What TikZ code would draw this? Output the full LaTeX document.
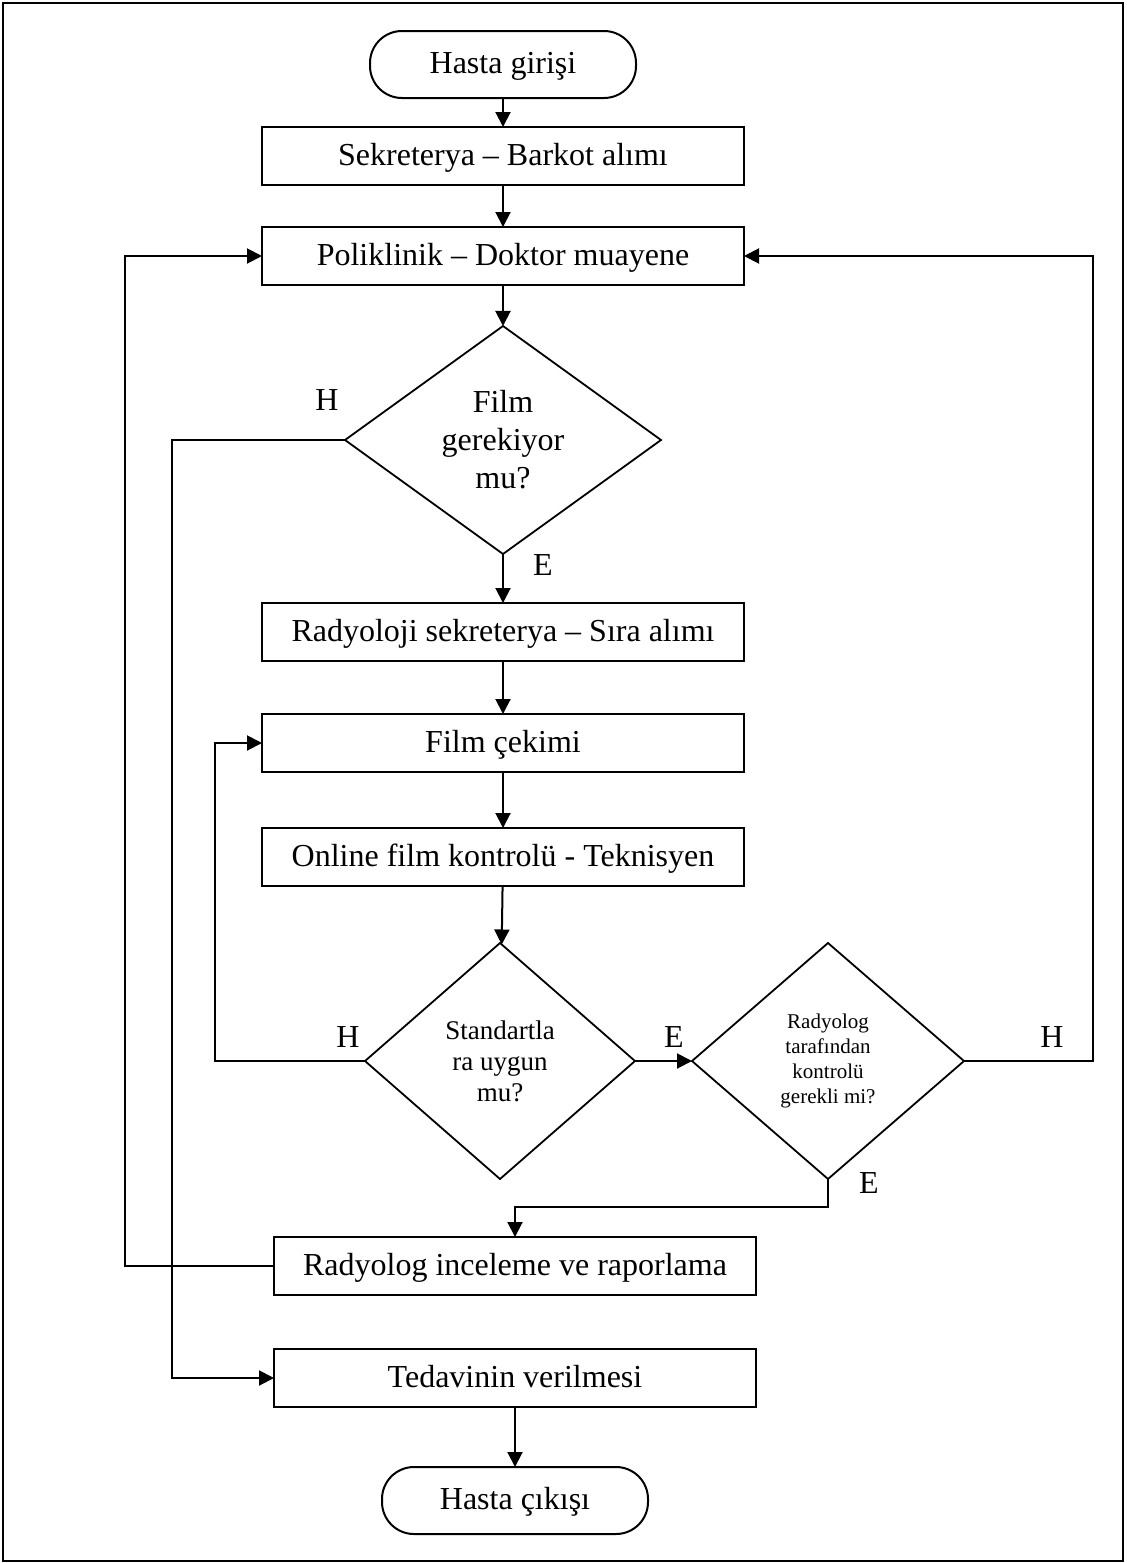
\documentclass[tikz,border=0pt]{standalone}
\usepackage{fontspec}
\setmainfont{Liberation Serif}
\usetikzlibrary{shapes.geometric, arrows.meta, positioning, calc}

\begin{document}
\begin{tikzpicture}[
  font=\fontsize{16}{19}\selectfont,
  term/.style   = {rectangle, rounded corners=16pt, draw=black, line width=1pt,
                   minimum width=133pt, minimum height=33.5pt, align=center, outer sep=0pt,
                   text height=12.5pt, text depth=3.5pt},
  box/.style    = {rectangle, draw=black, line width=1pt, fill=white,
                   minimum width=241pt, minimum height=29pt, align=center, inner sep=2pt, outer sep=0pt,
                   text height=12.5pt, text depth=3.5pt},
  dec/.style    = {diamond, draw=black, line width=0.9pt, align=center, inner sep=0pt, outer sep=0pt},
  lbl/.style    = {inner sep=0pt},
  arr/.style    = {-{Triangle[length=7.5pt, width=7.5pt]}, black, line width=1pt}
]

\useasboundingbox (0,0) rectangle (563pt,-781.5pt);
\draw[line width=1pt] (1.5pt,-1.5pt) rectangle (561.5pt,-780.5pt);

\node[term] (start) at (251.5pt,-32.25pt) {Hasta girişi};
\node[box]  (sekr)  [below=14.5pt of start] {Sekreterya – Barkot alımı};
\node[box]  (polk)  [below=21pt of sekr]    {Poliklinik – Doktor muayene};
\node[dec, minimum width=158pt, minimum height=114pt] (film) [below=20.5pt of polk]
      {Film\\gerekiyor\\mu?};
\node[box]  (rsek)  [below=24.5pt of film]  {Radyoloji sekreterya – Sıra alımı};
\node[box]  (cek)   [below=26.5pt of rsek]  {Film çekimi};
\node[box]  (onl)   [below=28pt of cek]     {Online film kontrolü - Teknisyen};
\node[dec, minimum width=135pt, minimum height=118pt,
      font=\fontsize{13.5}{15.5}\selectfont] (std) [below=28.5pt of onl, xshift=-1.5pt]
      {Standartla\\ra uygun\\mu?};
\node[dec, minimum width=136pt, minimum height=118pt,
      font=\fontsize{10.5}{12.5}\selectfont] (rkon) [right=28.5pt of std]
      {Radyolog\\tarafından\\kontrolü\\gerekli mi?};
\node[box]  (rapor) [below=29pt of std, xshift=7.5pt] {Radyolog inceleme ve raporlama};
\node[box]  (ted)   [below=27pt of rapor]   {Tedavinin verilmesi};
\node[term] (stop)  [below=30pt of ted]     {Hasta çıkışı};

% side lanes
\coordinate (lane0) at (62.5pt,0);
\coordinate (lane1) at (86pt,0);
\coordinate (lane2) at (107.5pt,0);
\coordinate (lane3) at (546.5pt,0);

% yes / no labels
\node[lbl] (h1) at ($(film.west)+(-9pt,20pt)$)  {H};
\node[lbl] (e1) at ($(film.south)+(20pt,-5.5pt)$) {E};
\node[lbl] (h2) at ($(std.west)+(-8.5pt,12pt)$)  {H};
\node[lbl] (e2) at ($(std.east)+(19.5pt,12pt)$)  {E};
\node[lbl] (h3) at ($(rkon.east)+(44pt,12pt)$)   {H};
\node[lbl] (e3) at ($(rkon.south)+(20.5pt,-2pt)$) {E};

\draw[arr] (start) -- (sekr);
\draw[arr] (sekr)  -- (polk);
\draw[arr] (polk)  -- (film);
\draw[arr] (film)  -- (rsek);
\draw[arr] (rsek)  -- (cek);
\draw[arr] (cek)   -- (onl);
\draw[arr] (onl)   -- (std);
\draw[arr] (std)   -- (rkon);

\draw[arr] (film.west) -- (film.west -| lane1) |- (ted.west);
\draw[arr] (std.west)  -- (std.west -| lane2)  |- (cek.west);
\draw[arr] (rkon.east) -- (rkon.east -| lane3) |- (polk.east);
\draw[arr] (rkon.south) -- ++(0,-14pt) -| (rapor.north);
\draw[arr] (rapor.west) -- (rapor.west -| lane0) |- (polk.west);
\draw[arr] (ted)   -- (stop);

\end{tikzpicture}
\end{document}
